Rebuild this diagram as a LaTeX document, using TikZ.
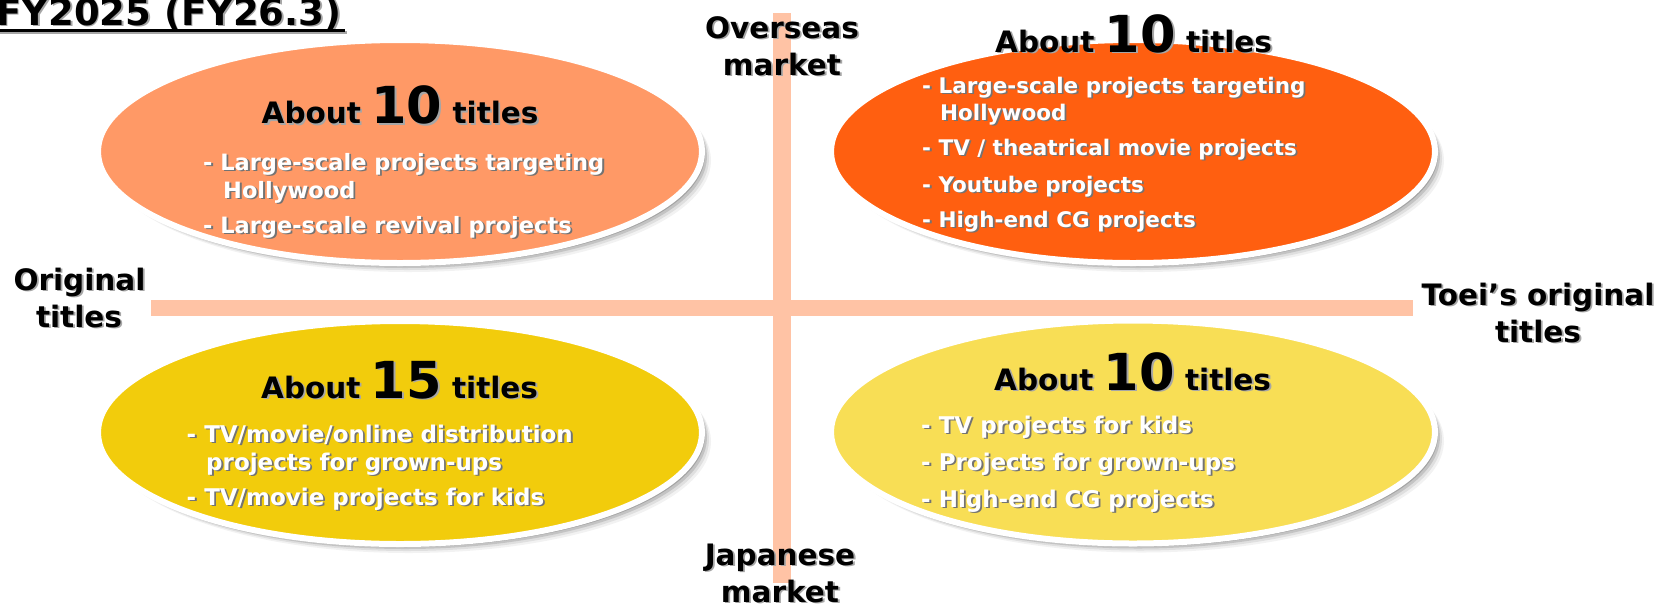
\documentclass[tikz,border=0pt]{standalone}
\usepackage{fontspec}
\setmainfont{DejaVu Sans}
\usetikzlibrary{shapes.geometric}
\definecolor{barc}{HTML}{FFC3A5}
\definecolor{ctl}{HTML}{FF9966}
\definecolor{ctr}{HTML}{FF5F10}
\definecolor{cbl}{HTML}{F2CC0C}
\definecolor{cbr}{HTML}{F8DE55}
\newcommand\myfs[1]{\fontsize{#1}{#1}\selectfont}
% name, options, position, shadow colour, text
\newcommand\shtext[5]{%
  \node[#2, text=#4, xshift=1.8pt, yshift=-1.8pt] (#1-s) at (#3) {#5};
  \node[#2] (#1) at (#3) {#5};
}
\newcommand\myoval[3]{%
  \foreach \sd/\so in {9/0.05,7/0.08,5/0.12,3/0.16} {
    \fill[black,opacity=\so,shift={(\sd,\sd)}] (#2) ellipse [x radius=302, y radius=111.5];
  }
  \node[oval, fill=#3] (#1) at (#2) {};
}
\tikzset{
  oval/.style={ellipse, minimum width=604, minimum height=223, inner sep=0, draw=white, line width=6},
  bar/.style={barc, line cap=butt},
  txt/.style={inner sep=0, font=\bfseries},
  hd/.style={txt, anchor=base west, text=black, font=\bfseries\myfs{29.5}},
  ax/.style={txt, anchor=base, text=black, font=\bfseries\myfs{29.5}},
  bl/.style={txt, anchor=base west, text=white, font=\bfseries\myfs{#1}},
}
\begin{document}
\begin{tikzpicture}[x=1pt,y=-1pt]
\useasboundingbox (0,0) rectangle (1660,606);
\fill[white] (0,0) rectangle (1660,606);

% axes
\coordinate (hl) at (151,308);
\coordinate (hr) at (1413,308);
\coordinate (vt) at (782,13);
\coordinate (vb) at (782,583);
\draw[bar, line width=16] (hl) -- (hr);
\draw[bar, line width=18] (vt) -- (vb);

% ellipses
\myoval{tl}{400,151.5}{ctl}
\myoval{tr}{1133,151.5}{ctr}
\myoval{bl}{400,432.5}{cbl}
\myoval{br}{1133,432}{cbr}

% title
\shtext{title}{txt, anchor=base west, font=\bfseries\myfs{37}}{-4,25}{black!35}{FY2025 (FY26.3)}
\draw[line width=2.6, black!35] ([xshift=1.8pt,yshift=-7.5pt]title.base west) -- ([xshift=5pt,yshift=-7.5pt]title.base east);
\draw[line width=2.6] ([yshift=-5.7pt]title.base west) -- ([xshift=3pt,yshift=-5.7pt]title.base east);

% axis labels
\shtext{ov1}{ax}{782,38}{black!35}{Overseas}
\shtext{ov2}{ax}{782,75}{black!35}{market}
\shtext{jp1}{ax}{780,565}{black!35}{Japanese}
\shtext{jp2}{ax}{780,602}{black!35}{market}
\shtext{or1}{ax}{79.5,290}{black!35}{Original}
\shtext{or2}{ax}{79,327}{black!35}{titles}
\shtext{to1}{ax}{1538,305}{black!35}{Toei’s original}
\shtext{to2}{ax}{1538,342}{black!35}{titles}

% headings
\shtext{h1}{hd}{261.5,123.5}{black!35}{About {\myfs{51}10} titles}
\shtext{h2}{hd}{995,52}{black!35}{About {\myfs{51}10} titles}
\shtext{h3}{hd}{261,398}{black!35}{About {\myfs{51}15} titles}
\shtext{h4}{hd}{994,390}{black!35}{About {\myfs{51}10} titles}

% top-left items
\shtext{a1}{bl=22.5}{203,170}{black!55}{- Large-scale projects targeting}
\shtext{a2}{bl=22.5}{223,198}{black!55}{Hollywood}
\shtext{a3}{bl=22.5}{203,233}{black!55}{- Large-scale revival projects}

% top-right items
\shtext{b1}{bl=21.5}{922,93}{black!55}{- Large-scale projects targeting}
\shtext{b2}{bl=21.5}{940,120}{black!55}{Hollywood}
\shtext{b3}{bl=21.5}{922,155}{black!55}{- TV / theatrical movie projects}
\shtext{b4}{bl=21.5}{922,192}{black!55}{- Youtube projects}
\shtext{b5}{bl=21.5}{922,227}{black!55}{- High-end CG projects}

% bottom-left items
\shtext{c1}{bl=23}{186.5,442}{black!55}{- TV/movie/online distribution}
\shtext{c2}{bl=23}{206,470}{black!55}{projects for grown-ups}
\shtext{c3}{bl=23}{186.5,505}{black!55}{- TV/movie projects for kids}

% bottom-right items
\shtext{d1}{bl=23}{921,433}{black!55}{- TV projects for kids}
\shtext{d2}{bl=23}{921,470}{black!55}{- Projects for grown-ups}
\shtext{d3}{bl=23}{921,507}{black!55}{- High-end CG projects}
\end{tikzpicture}
\end{document}
